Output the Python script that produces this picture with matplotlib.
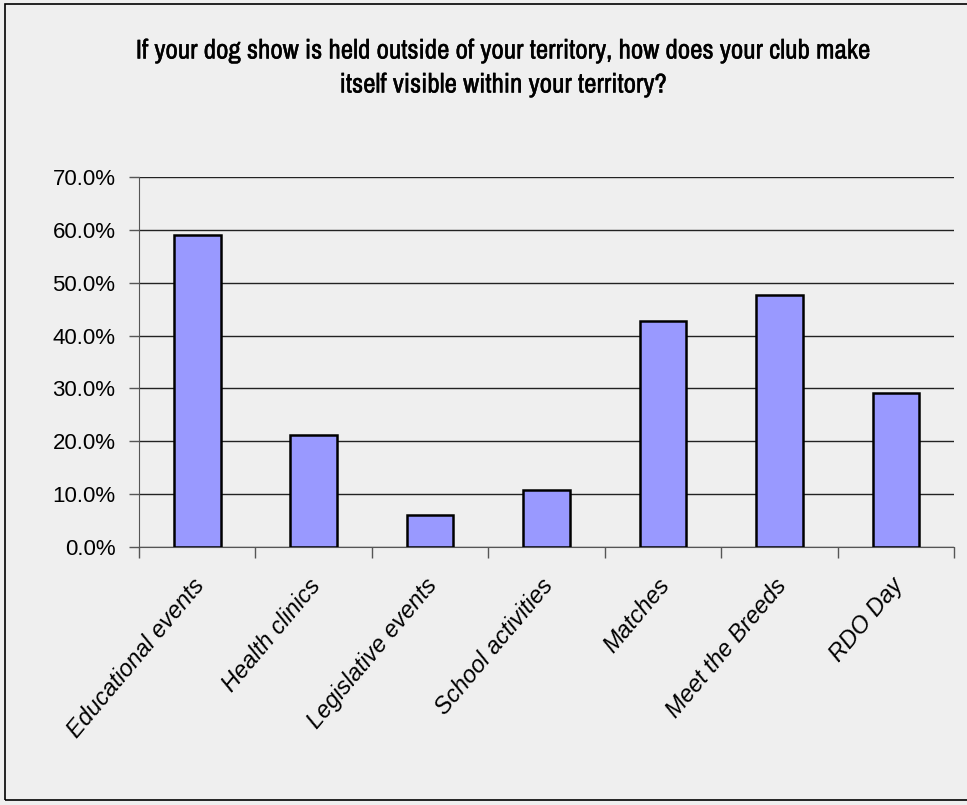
import matplotlib
matplotlib.use('Agg')
import matplotlib.pyplot as plt
import matplotlib.transforms as mtransforms
import matplotlib.patheffects as pe
from matplotlib import font_manager
from matplotlib.patches import Rectangle
from matplotlib.ticker import FuncFormatter, MultipleLocator
import numpy as np

# data
categories = ['Educational events', 'Health clinics', 'Legislative events',
              'School activities', 'Matches', 'Meet the Breeds', 'RDO Day']
percent = [59.0, 21.2, 6.0, 10.8, 42.7, 47.7, 29.2]
title_text = ('If your dog show is held outside of your territory, how does your club make\n'
              'itself visible within your territory?')

bg = '#efefef'
bar_color = '#9999ff'

# look for a narrow font for the title, otherwise plain sans
narrow = None
for f in font_manager.fontManager.ttflist:
    if 'Narrow' in f.name or 'Condensed' in f.name:
        narrow = f.name
        break
title_family = ([narrow] if narrow else []) + ['Liberation Sans', 'DejaVu Sans']

plt.rcParams['font.family'] = ['Liberation Sans', 'DejaVu Sans']

fig = plt.figure(figsize=(9.67, 8.05), dpi=100)
fig.patch.set_facecolor(bg)
# outer frame of the chart area
fig.patches.append(Rectangle((5 / 967, 5 / 805), 1.5, 1 - 9 / 805, transform=fig.transFigure,
                             fill=False, edgecolor='black', linewidth=1.2))

ax = fig.add_axes([139 / 967, 1 - 547 / 805, (954 - 139) / 967, (547 - 177) / 805])
ax.set_facecolor(bg)

x = np.arange(len(categories))
ax.bar(x, percent, width=0.4, color=bar_color, edgecolor='black', linewidth=1.8, zorder=3)

ax.set_xlim(-0.5, len(categories) - 0.5)
ax.set_ylim(0, 70)
ax.yaxis.set_major_locator(MultipleLocator(10))
ax.yaxis.set_major_formatter(FuncFormatter(lambda v, p: '%.1f%%' % v))
ax.grid(axis='y', color='#222222', linewidth=1.0, zorder=1)

for s in ['top', 'right']:
    ax.spines[s].set_visible(False)
ax.spines['left'].set_color('#555555')
ax.spines['bottom'].set_color('#555555')

ax.tick_params(axis='y', length=7, width=1, color='#555555', pad=10, labelsize=16)

# x ticks at category boundaries, labels at centres
ax.set_xticks(np.arange(-0.5, len(categories), 1), minor=True)
ax.tick_params(axis='x', which='minor', length=8, width=1, color='#555555')
ax.set_xticks(x)
ax.set_xticklabels(categories, rotation=50, ha='right', va='center',
                   rotation_mode='anchor', fontsize=17, style='italic')
ax.tick_params(axis='x', which='major', length=0, pad=25)
offset = mtransforms.ScaledTranslation(0.03, 0, fig.dpi_scale_trans)
for lab in ax.get_xticklabels():
    lab.set_transform(lab.get_transform() + offset)

title_size = 19.5 if narrow else 16.5
fig.text(503 / 967, 1 - 68 / 805, title_text, ha='center', va='center', fontsize=title_size,
         family=title_family, linespacing=1.45,
         path_effects=[pe.withStroke(linewidth=0.3, foreground='black')])

fig.savefig('out.png', dpi=100, facecolor=bg)
